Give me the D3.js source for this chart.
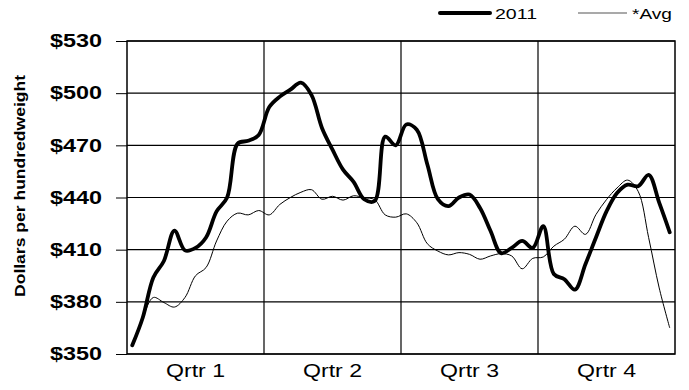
<!DOCTYPE html>
<html><head><meta charset="utf-8">
<script src="https://cdn.jsdelivr.net/npm/d3@7"></script>
<style>body{margin:0;background:#fff}svg{display:block}text{font-family:"Liberation Sans",Arial,sans-serif}</style>
</head><body><svg width="689" height="390"></svg>
<script>
const quarters = ["Qrtr 1","Qrtr 2","Qrtr 3","Qrtr 4"];
const series2011 = [355,371,394,403.5,421,409.6,411,417,432,440,471,472.6,476,492,498,502,506,499,480,467.5,456,449,439,438,475,470,482,479,459,439,435,440,441.7,434,420.7,408,411,415,411,423.5,396,393,387,401.6,417,432,442.6,447.4,446.5,453,437,420];
const seriesAvg = [355,371,382.5,379.6,377,382.5,395,399.7,415,426.4,431,430,432.5,430,436,440,443,444.5,439,440.7,438.5,441,439.8,438.8,430,428.7,430.6,425.5,413.4,409.2,407,408.3,407.3,404.5,406.4,407.7,406.4,399,405,405.8,412,416,423.5,418.8,430.2,438.8,445.5,450,443.6,416.9,388,365];
const yTicks = [350,380,410,440,470,500,530];

const svg = d3.select("svg");
const L=127,R=675,T=41,B=354;
const x = d3.scaleLinear().domain([0,series2011.length]).range([L,R]);
const xq = d3.scaleBand().domain(quarters).range([L,R]);
const y = d3.scaleLinear().domain([350,530]).range([B,T]);

svg.append("g").selectAll("line").data(yTicks).join("line")
  .attr("x1",L).attr("x2",R).attr("y1",d=>y(d)).attr("y2",d=>y(d))
  .attr("stroke","#000").attr("stroke-width",1.2);
svg.append("g").selectAll("line").data(quarters.slice(1)).join("line")
  .attr("x1",d=>xq(d)).attr("x2",d=>xq(d)).attr("y1",T).attr("y2",B)
  .attr("stroke","#000").attr("stroke-width",1.2);
svg.append("rect").attr("x",L).attr("y",T).attr("width",R-L).attr("height",B-T)
  .attr("fill","none").attr("stroke","#000").attr("stroke-width",1.5);

const ya = svg.append("g").attr("transform",`translate(${L},0)`)
  .call(d3.axisLeft(y).tickValues(yTicks).tickSize(11).tickPadding(14).tickFormat(d=>"$"+d));
ya.select(".domain").remove();
ya.selectAll("text").attr("font-size",18).attr("font-weight","bold").attr("fill","#000")
  .attr("font-family","'Liberation Sans',Arial,sans-serif")
  .attr("textLength",52).attr("lengthAdjust","spacingAndGlyphs");
ya.selectAll("line").attr("stroke","#000");

const xa = svg.append("g").attr("transform",`translate(0,${B})`)
  .call(d3.axisBottom(xq).tickSize(0).tickPadding(10));
xa.select(".domain").remove();
xa.selectAll("text").attr("font-size",19).attr("fill","#000")
  .attr("font-family","'Liberation Sans',Arial,sans-serif")
  .attr("textLength",59).attr("lengthAdjust","spacingAndGlyphs");

svg.append("text").attr("transform","translate(25,186) rotate(-90)")
  .attr("text-anchor","middle").attr("font-size",15).attr("font-weight","bold")
  .attr("textLength",222).attr("lengthAdjust","spacingAndGlyphs")
  .text("Dollars per hundredweight");

const line = d3.line().x((d,i)=>x(i+0.5)).y(d=>y(d)).curve(d3.curveCatmullRom.alpha(0.5));
svg.append("path").attr("d",line(seriesAvg)).attr("fill","none").attr("stroke","#000").attr("stroke-width",1);
svg.append("path").attr("d",line(series2011)).attr("fill","none").attr("stroke","#000").attr("stroke-width",3.8)
  .attr("stroke-linejoin","round").attr("stroke-linecap","round");

const lg = svg.append("g");
lg.append("line").attr("x1",440).attr("x2",490).attr("y1",13).attr("y2",13).attr("stroke","#000").attr("stroke-width",4).attr("stroke-linecap","round");
lg.append("text").attr("x",495).attr("y",18.5).attr("font-size",15).attr("textLength",42).attr("lengthAdjust","spacingAndGlyphs").text("2011");
lg.append("line").attr("x1",578).attr("x2",627).attr("y1",13).attr("y2",13).attr("stroke","#555").attr("stroke-width",1.2);
lg.append("text").attr("x",632).attr("y",18.5).attr("font-size",15).attr("textLength",40).attr("lengthAdjust","spacingAndGlyphs").text("*Avg");
</script></body></html>
